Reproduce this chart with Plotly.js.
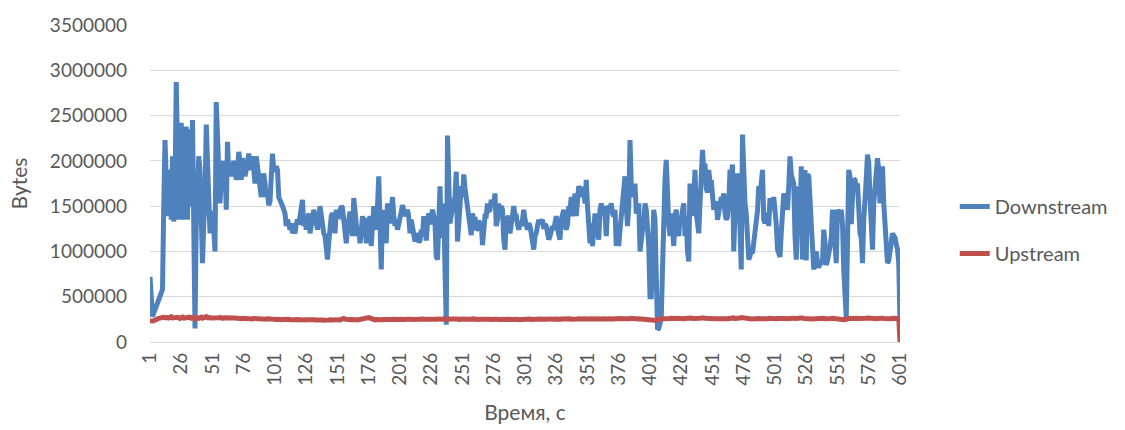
<!DOCTYPE html>
<html>
<head>
<meta charset="utf-8">
<script src="https://cdn.plot.ly/plotly-3.0.1.min.js"></script>
<style>html,body{margin:0;padding:0;background:#fff;}#chart{width:1125px;height:430px;}</style>
</head>
<body>
<div id="chart"></div>
<script>
// Downstream bytes per second, points 1..601
const downstream = [
0.72e6,0.45e6,0.28e6,0.32e6,0.36e6,0.40e6,0.44e6,0.48e6,0.52e6,0.55e6,
0.58e6,1.50e6,2.23e6,1.80e6,1.39e6,1.60e6,1.90e6,1.35e6,2.05e6,1.33e6,
1.70e6,2.87e6,1.70e6,1.35e6,1.90e6,2.42e6,1.35e6,2.20e6,1.80e6,2.38e6,
1.35e6,2.35e6,1.60e6,1.50e6,2.45e6,1.30e6,0.15e6,1.30e6,1.75e6,2.05e6,
1.90e6,1.40e6,0.87e6,1.30e6,1.60e6,2.40e6,1.90e6,1.60e6,1.20e6,1.35e6,
1.45e6,1.25e6,1.00e6,2.65e6,2.20e6,1.90e6,1.53e6,1.80e6,2.00e6,1.80e6,
1.95e6,1.46e6,2.21e6,1.85e6,1.90e6,1.83e6,1.95e6,2.00e6,1.94e6,1.79e6,
1.90e6,2.10e6,2.00e6,1.79e6,2.03e6,1.95e6,1.83e6,1.90e6,2.00e6,2.08e6,
1.95e6,1.90e6,2.05e6,1.90e6,1.75e6,2.05e6,1.95e6,1.83e6,1.75e6,1.60e6,
1.80e6,1.86e6,1.75e6,1.60e6,1.65e6,1.51e6,1.55e6,1.86e6,2.08e6,1.90e6,
1.90e6,1.94e6,1.90e6,1.60e6,1.55e6,1.53e6,1.50e6,1.46e6,1.42e6,1.28e6,
1.35e6,1.30e6,1.24e6,1.31e6,1.20e6,1.25e6,1.20e6,1.30e6,1.35e6,1.30e6,
1.42e6,1.50e6,1.57e6,1.28e6,1.35e6,1.24e6,1.40e6,1.42e6,1.20e6,1.30e6,
1.42e6,1.46e6,1.40e6,1.31e6,1.24e6,1.35e6,1.50e6,1.40e6,1.28e6,1.20e6,
1.17e6,1.05e6,0.91e6,1.10e6,1.28e6,1.39e6,1.42e6,1.39e6,1.20e6,1.46e6,
1.40e6,1.39e6,1.45e6,1.50e6,1.48e6,1.38e6,1.24e6,1.09e6,1.25e6,1.39e6,
1.44e6,1.39e6,1.17e6,1.59e6,1.39e6,1.30e6,1.17e6,1.25e6,1.09e6,1.20e6,
1.39e6,1.30e6,1.37e6,1.09e6,1.20e6,1.35e6,1.39e6,1.06e6,1.39e6,1.50e6,
1.24e6,1.35e6,1.50e6,1.83e6,1.20e6,0.80e6,1.46e6,1.28e6,1.15e6,1.09e6,
1.53e6,1.35e6,1.31e6,1.45e6,1.60e6,1.40e6,1.28e6,1.35e6,1.24e6,1.30e6,
1.39e6,1.42e6,1.51e6,1.46e6,1.39e6,1.42e6,1.46e6,1.38e6,1.20e6,1.35e6,
1.28e6,1.24e6,1.11e6,1.20e6,1.17e6,1.10e6,1.12e6,1.24e6,1.17e6,1.39e6,
1.28e6,1.12e6,1.31e6,1.42e6,1.30e6,1.42e6,1.46e6,1.39e6,1.31e6,0.94e6,
0.91e6,1.30e6,1.72e6,1.15e6,1.35e6,1.53e6,0.80e6,0.19e6,2.28e6,1.60e6,
1.31e6,1.40e6,1.45e6,1.50e6,1.60e6,1.88e6,1.11e6,1.30e6,1.45e6,1.72e6,
1.60e6,1.85e6,1.70e6,1.60e6,1.53e6,1.42e6,1.30e6,1.18e6,1.42e6,1.33e6,
1.38e6,1.24e6,1.25e6,1.34e6,1.30e6,1.31e6,1.07e6,1.25e6,1.39e6,1.39e6,
1.53e6,1.45e6,1.46e6,1.57e6,1.51e6,1.53e6,1.64e6,1.28e6,1.35e6,1.53e6,
1.39e6,1.50e6,1.46e6,1.13e6,1.02e6,1.35e6,1.39e6,1.39e6,1.20e6,1.31e6,
1.35e6,1.50e6,1.39e6,1.39e6,1.30e6,1.24e6,1.31e6,1.28e6,1.35e6,1.46e6,
1.35e6,1.28e6,1.24e6,1.31e6,1.28e6,1.20e6,1.10e6,1.02e6,1.17e6,1.20e6,
1.28e6,1.35e6,1.31e6,1.35e6,1.35e6,1.25e6,1.30e6,1.28e6,1.20e6,1.13e6,
1.17e6,1.25e6,1.28e6,1.24e6,1.33e6,1.39e6,1.25e6,1.17e6,1.13e6,1.35e6,
1.42e6,1.46e6,1.31e6,1.24e6,1.30e6,1.50e6,1.45e6,1.60e6,1.39e6,1.50e6,
1.64e6,1.39e6,1.50e6,1.72e6,1.69e6,1.60e6,1.69e6,1.69e6,1.53e6,1.79e6,
1.50e6,1.17e6,1.09e6,1.31e6,1.06e6,1.25e6,1.42e6,1.35e6,1.20e6,1.13e6,
1.46e6,1.53e6,1.46e6,1.50e6,1.40e6,1.17e6,1.46e6,1.50e6,1.48e6,1.53e6,
1.42e6,1.39e6,1.46e6,1.06e6,1.20e6,1.06e6,1.24e6,1.39e6,1.46e6,1.60e6,
1.83e6,1.50e6,1.28e6,1.50e6,2.23e6,1.75e6,1.60e6,1.60e6,1.75e6,1.42e6,
1.45e6,1.53e6,1.00e6,1.17e6,1.24e6,1.30e6,1.53e6,1.46e6,1.25e6,1.06e6,
0.50e6,0.50e6,1.00e6,1.46e6,1.35e6,0.43e6,0.14e6,0.15e6,0.25e6,0.26e6,
0.80e6,1.70e6,1.80e6,2.01e6,1.53e6,1.30e6,1.17e6,1.42e6,1.25e6,1.06e6,
1.39e6,1.46e6,1.24e6,1.17e6,1.39e6,1.35e6,1.45e6,1.53e6,1.17e6,1.39e6,
1.00e6,0.89e6,1.75e6,1.40e6,1.39e6,1.60e6,1.90e6,1.42e6,1.30e6,1.20e6,
1.53e6,1.80e6,2.12e6,1.90e6,1.97e6,1.70e6,1.65e6,1.90e6,1.75e6,1.79e6,
1.68e6,1.46e6,1.53e6,1.55e6,1.35e6,1.46e6,1.53e6,1.60e6,1.56e6,1.64e6,
1.42e6,1.35e6,1.38e6,1.53e6,1.90e6,1.80e6,1.96e6,1.00e6,1.46e6,1.60e6,
1.86e6,1.68e6,1.35e6,0.80e6,2.29e6,1.60e6,1.53e6,1.42e6,1.24e6,0.91e6,
0.95e6,1.00e6,0.98e6,1.09e6,1.20e6,1.24e6,1.45e6,1.72e6,1.60e6,1.75e6,
1.90e6,1.35e6,1.31e6,1.39e6,1.42e6,1.28e6,1.59e6,1.46e6,1.50e6,1.60e6,
1.46e6,1.30e6,1.02e6,0.94e6,0.94e6,1.20e6,1.53e6,1.64e6,1.60e6,1.53e6,
1.46e6,1.72e6,2.05e6,1.85e6,1.79e6,1.75e6,1.17e6,0.91e6,1.30e6,1.72e6,
1.31e6,1.94e6,0.91e6,1.50e6,1.90e6,0.90e6,1.85e6,1.83e6,1.50e6,1.20e6,
0.95e6,0.80e6,0.95e6,1.00e6,0.87e6,0.82e6,0.90e6,0.87e6,0.88e6,1.24e6,
1.10e6,0.85e6,0.90e6,0.95e6,1.05e6,1.15e6,1.46e6,1.30e6,0.95e6,0.87e6,
1.46e6,1.40e6,1.39e6,1.46e6,1.30e6,0.80e6,0.28e6,0.27e6,1.10e6,1.90e6,
1.83e6,1.30e6,1.60e6,1.80e6,1.79e6,1.70e6,1.75e6,1.30e6,1.20e6,1.15e6,
0.87e6,1.35e6,1.75e6,1.80e6,2.07e6,1.98e6,1.60e6,1.30e6,1.02e6,1.53e6,
1.72e6,1.90e6,2.03e6,1.90e6,1.53e6,1.75e6,1.94e6,1.53e6,1.24e6,1.00e6,
0.87e6,0.90e6,1.02e6,1.10e6,1.20e6,1.17e6,1.15e6,1.08e6,1.02e6,0.87e6,
0.23e6
];

// Upstream bytes per second, points 1..601
const upstream = [
2.35e5,2.30e5,2.32e5,2.35e5,2.38e5,2.45e5,2.55e5,2.62e5,2.68e5,2.70e5,
2.65e5,2.72e5,2.68e5,2.75e5,2.70e5,2.64e5,2.72e5,2.78e5,2.66e5,2.70e5,
2.62e5,2.68e5,2.72e5,2.65e5,2.60e5,2.70e5,2.75e5,2.64e5,2.68e5,2.72e5,
2.66e5,2.70e5,2.74e5,2.62e5,2.68e5,2.72e5,2.55e5,2.70e5,2.66e5,2.62e5,
2.68e5,2.75e5,2.64e5,2.70e5,2.66e5,2.80e5,2.68e5,2.62e5,2.70e5,2.66e5,
2.64e5,2.72e5,2.68e5,2.66e5,2.60e5,2.68e5,2.72e5,2.64e5,2.62e5,2.68e5,
2.66e5,2.70e5,2.64e5,2.62e5,2.68e5,2.66e5,2.60e5,2.64e5,2.66e5,2.62e5,
2.60e5,2.64e5,2.62e5,2.58e5,2.62e5,2.60e5,2.64e5,2.58e5,2.56e5,2.60e5,
2.62e5,2.58e5,2.55e5,2.60e5,2.58e5,2.56e5,2.54e5,2.58e5,2.56e5,2.52e5,
2.55e5,2.58e5,2.54e5,2.52e5,2.56e5,2.53e5,2.50e5,2.54e5,2.52e5,2.50e5,
2.50e5,2.48e5,2.52e5,2.47e5,2.50e5,2.46e5,2.49e5,2.51e5,2.47e5,2.45e5,
2.48e5,2.50e5,2.46e5,2.44e5,2.48e5,2.50e5,2.47e5,2.45e5,2.49e5,2.46e5,
2.44e5,2.47e5,2.50e5,2.46e5,2.43e5,2.46e5,2.48e5,2.45e5,2.42e5,2.46e5,
2.44e5,2.47e5,2.43e5,2.45e5,2.48e5,2.44e5,2.42e5,2.45e5,2.43e5,2.40e5,
2.44e5,2.42e5,2.40e5,2.43e5,2.45e5,2.41e5,2.44e5,2.42e5,2.46e5,2.43e5,
2.45e5,2.48e5,2.44e5,2.50e5,2.56e5,2.60e5,2.52e5,2.47e5,2.45e5,2.48e5,
2.46e5,2.49e5,2.45e5,2.48e5,2.50e5,2.47e5,2.44e5,2.48e5,2.52e5,2.49e5,
2.47e5,2.50e5,2.55e5,2.58e5,2.62e5,2.70e5,2.64e5,2.55e5,2.48e5,2.46e5,
2.44e5,2.47e5,2.45e5,2.40e5,2.38e5,2.42e5,2.45e5,2.48e5,2.46e5,2.44e5,
2.47e5,2.49e5,2.46e5,2.48e5,2.50e5,2.47e5,2.45e5,2.49e5,2.51e5,2.48e5,
2.50e5,2.47e5,2.49e5,2.52e5,2.48e5,2.50e5,2.53e5,2.49e5,2.47e5,2.50e5,
2.52e5,2.48e5,2.50e5,2.53e5,2.55e5,2.51e5,2.49e5,2.52e5,2.54e5,2.50e5,
2.52e5,2.55e5,2.50e5,2.53e5,2.56e5,2.52e5,2.50e5,2.54e5,2.51e5,2.48e5,
2.52e5,2.55e5,2.50e5,2.47e5,2.52e5,2.56e5,2.50e5,2.44e5,2.48e5,2.53e5,
2.55e5,2.52e5,2.50e5,2.54e5,2.57e5,2.52e5,2.55e5,2.50e5,2.53e5,2.56e5,
2.52e5,2.50e5,2.54e5,2.51e5,2.49e5,2.53e5,2.50e5,2.52e5,2.55e5,2.51e5,
2.49e5,2.52e5,2.50e5,2.48e5,2.51e5,2.53e5,2.50e5,2.47e5,2.50e5,2.52e5,
2.49e5,2.51e5,2.48e5,2.50e5,2.53e5,2.49e5,2.47e5,2.50e5,2.52e5,2.48e5,
2.50e5,2.47e5,2.49e5,2.52e5,2.48e5,2.46e5,2.49e5,2.51e5,2.48e5,2.50e5,
2.47e5,2.49e5,2.52e5,2.48e5,2.50e5,2.47e5,2.49e5,2.51e5,2.48e5,2.50e5,
2.52e5,2.49e5,2.47e5,2.50e5,2.53e5,2.49e5,2.51e5,2.48e5,2.50e5,2.52e5,
2.49e5,2.51e5,2.54e5,2.50e5,2.48e5,2.51e5,2.53e5,2.50e5,2.52e5,2.55e5,
2.51e5,2.53e5,2.50e5,2.52e5,2.54e5,2.51e5,2.49e5,2.52e5,2.50e5,2.53e5,
2.55e5,2.52e5,2.50e5,2.53e5,2.51e5,2.54e5,2.56e5,2.52e5,2.50e5,2.53e5,
2.55e5,2.52e5,2.54e5,2.57e5,2.53e5,2.51e5,2.54e5,2.56e5,2.53e5,2.55e5,
2.52e5,2.54e5,2.57e5,2.53e5,2.55e5,2.52e5,2.54e5,2.56e5,2.53e5,2.55e5,
2.57e5,2.54e5,2.56e5,2.53e5,2.55e5,2.58e5,2.55e5,2.57e5,2.54e5,2.56e5,
2.58e5,2.55e5,2.57e5,2.60e5,2.62e5,2.58e5,2.56e5,2.59e5,2.57e5,2.55e5,
2.58e5,2.60e5,2.57e5,2.55e5,2.58e5,2.61e5,2.57e5,2.55e5,2.58e5,2.56e5,
2.54e5,2.57e5,2.55e5,2.52e5,2.50e5,2.47e5,2.45e5,2.43e5,2.42e5,2.40e5,
2.38e5,2.36e5,2.40e5,2.35e5,2.32e5,2.38e5,2.45e5,2.52e5,2.55e5,2.58e5,
2.60e5,2.57e5,2.55e5,2.58e5,2.60e5,2.57e5,2.59e5,2.62e5,2.58e5,2.56e5,
2.59e5,2.61e5,2.58e5,2.56e5,2.60e5,2.62e5,2.59e5,2.57e5,2.60e5,2.63e5,
2.60e5,2.58e5,2.61e5,2.64e5,2.60e5,2.58e5,2.62e5,2.65e5,2.61e5,2.59e5,
2.62e5,2.65e5,2.70e5,2.66e5,2.62e5,2.60e5,2.63e5,2.66e5,2.62e5,2.60e5,
2.58e5,2.61e5,2.59e5,2.56e5,2.58e5,2.60e5,2.57e5,2.55e5,2.58e5,2.60e5,
2.62e5,2.58e5,2.56e5,2.60e5,2.63e5,2.68e5,2.72e5,2.66e5,2.60e5,2.58e5,
2.56e5,2.60e5,2.65e5,2.70e5,2.66e5,2.62e5,2.58e5,2.55e5,2.57e5,2.59e5,
2.56e5,2.54e5,2.57e5,2.59e5,2.56e5,2.54e5,2.57e5,2.60e5,2.57e5,2.55e5,
2.58e5,2.60e5,2.57e5,2.55e5,2.58e5,2.61e5,2.58e5,2.56e5,2.59e5,2.62e5,
2.59e5,2.57e5,2.60e5,2.62e5,2.59e5,2.57e5,2.60e5,2.63e5,2.60e5,2.58e5,
2.61e5,2.64e5,2.60e5,2.58e5,2.61e5,2.63e5,2.60e5,2.57e5,2.60e5,2.62e5,
2.66e5,2.70e5,2.64e5,2.60e5,2.58e5,2.61e5,2.63e5,2.60e5,2.58e5,2.56e5,
2.58e5,2.55e5,2.57e5,2.59e5,2.56e5,2.58e5,2.60e5,2.57e5,2.59e5,2.61e5,
2.58e5,2.56e5,2.59e5,2.61e5,2.58e5,2.60e5,2.62e5,2.59e5,2.57e5,2.60e5,
2.62e5,2.59e5,2.57e5,2.55e5,2.50e5,2.45e5,2.48e5,2.55e5,2.62e5,2.64e5,
2.61e5,2.59e5,2.62e5,2.65e5,2.61e5,2.59e5,2.62e5,2.60e5,2.58e5,2.61e5,
2.63e5,2.60e5,2.58e5,2.62e5,2.66e5,2.62e5,2.59e5,2.61e5,2.63e5,2.60e5,
2.58e5,2.61e5,2.64e5,2.60e5,2.58e5,2.61e5,2.63e5,2.60e5,2.58e5,2.61e5,
2.59e5,2.62e5,2.60e5,2.58e5,2.61e5,2.63e5,2.60e5,2.62e5,2.64e5,2.60e5,
0
];

// Category axis tick labels (every 25 seconds)
const tickVals = [1,26,51,76,101,126,151,176,201,226,251,276,301,326,351,376,401,426,451,476,501,526,551,576,601];
const tickLabels = ['1','26','51','76','101','126','151','176','201','226','251','276','301','326','351','376','401','426','451','476','501','526','551','576','601'];

const seriesNames = ['Downstream', 'Upstream'];
const seconds = downstream.map((_, k) => k + 1);

const FONT = 'Lato, "Open Sans", sans-serif';
const GREY = '#595959';

const traces = [
  {x: seconds, y: downstream, type: 'scatter', mode: 'lines', name: seriesNames[0],
   legendgroup: 'd', line: {color: '#4F81BD', width: 5}},
  {x: seconds, y: upstream, type: 'scatter', mode: 'lines', name: seriesNames[1],
   legendgroup: 'u', line: {color: '#C0504D', width: 5}}
];

const layout = {
  width: 1125, height: 430,
  margin: {l: 150, r: 225, t: 25, b: 88},
  paper_bgcolor: '#ffffff', plot_bgcolor: '#ffffff',
  font: {family: FONT, color: GREY, size: 19},
  showlegend: true,
  legend: {x: 1.073, xanchor: 'left', y: 0.353, yanchor: 'middle',
           font: {family: FONT, size: 20, color: GREY}, tracegroupgap: 18,
           bgcolor: 'rgba(0,0,0,0)'},
  xaxis: {
    range: [1, 601], tickmode: 'array', tickvals: tickVals, ticktext: tickLabels,
    tickangle: -90, showgrid: false, zeroline: false, showline: false, ticks: '',
    tickfont: {family: FONT, size: 19, color: GREY}, ticklabelstandoff: 6,
    title: {text: 'Время, с', font: {family: FONT, size: 21, color: GREY}, standoff: 20}
  },
  yaxis: {
    range: [0, 3500000], dtick: 500000, tick0: 0, tickformat: 'd',
    showgrid: true, gridcolor: '#D9D9D9', gridwidth: 1,
    zeroline: true, zerolinecolor: '#D9D9D9', zerolinewidth: 1,
    showline: false, ticks: '',
    tickfont: {family: FONT, size: 19, color: GREY}, ticklabelstandoff: 22,
    title: {text: 'Bytes', font: {family: FONT, size: 21, color: GREY}, standoff: 16}
  }
};

Plotly.newPlot('chart', traces, layout, {displayModeBar: false, staticPlot: true});
</script>
</body>
</html>
